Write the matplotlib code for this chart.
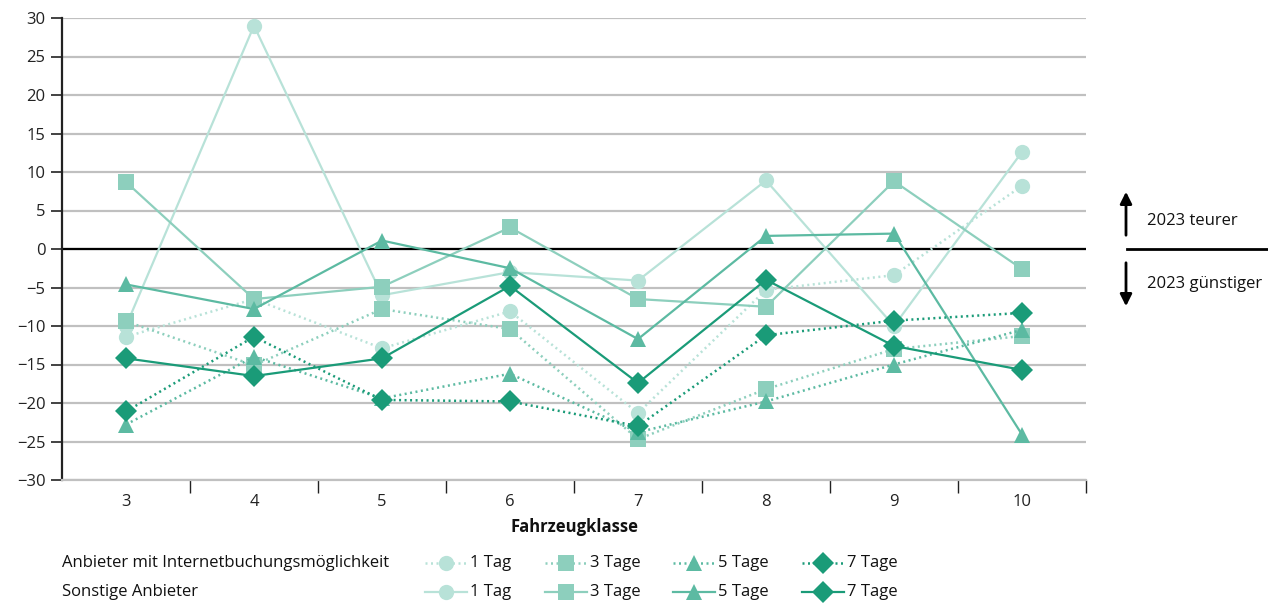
import numpy as np
from matplotlib import pyplot as plt
from matplotlib.lines import Line2D

plt.rcParams['font.family'] = ['Open Sans', 'DejaVu Sans']

classes = [3, 4, 5, 6, 7, 8, 9, 10]

# Anbieter mit Internetbuchungsmoeglichkeit (dotted)
online_1 = [-11.4, -6.5, -12.9, -8.1, -21.3, -5.3, -3.4, 8.2]
online_3 = [-9.4, -15.1, -7.8, -10.4, -24.7, -18.2, -13.0, -11.3]
online_5 = [-22.8, -14.0, -19.4, -16.2, -23.8, -19.8, -15.0, -10.5]
online_7 = [-21.1, -11.4, -19.6, -19.8, -23.0, -11.2, -9.3, -8.3]

# Sonstige Anbieter (solid)
other_1 = [-10.0, 29.0, -6.0, -3.0, -4.1, 8.9, -10.0, 12.6]
other_3 = [8.7, -6.5, -4.9, 2.8, -6.5, -7.5, 8.8, -2.6]
other_5 = [-4.6, -7.8, 1.1, -2.5, -11.7, 1.7, 2.0, -24.1]
other_7 = [-14.2, -16.5, -14.2, -4.8, -17.4, -4.0, -12.6, -15.7]

labels = ['1 Tag', '3 Tage', '5 Tage', '7 Tage']
colors = ['#b8e2d8', '#8dcfbd', '#5cbaa2', '#1a9b78']
markers = ['o', 's', '^', 'D']
msizes = [11, 11, 12, 11.5]
dotted = (0, (0.8, 1.4))

fig = plt.figure(figsize=(12.68, 6.03), dpi=100)
ax = fig.add_axes([62 / 1268, 1 - 480 / 603, 1024 / 1268, 462 / 603])

online = [online_1, online_3, online_5, online_7]
other = [other_1, other_3, other_5, other_7]

for i in range(4):
    ax.plot(classes, online[i], color=colors[i], linestyle=dotted, linewidth=1.8,
            marker=markers[i], markersize=msizes[i], markeredgewidth=0, zorder=3 + i)
    ax.plot(classes, other[i], color=colors[i], linestyle='-', linewidth=1.6,
            marker=markers[i], markersize=msizes[i], markeredgewidth=0, zorder=3 + i)

ax.set_xlim(2.5, 10.5)
ax.set_ylim(-30, 30)
ax.set_yticks(np.arange(-30, 31, 5))
ax.set_yticklabels([str(v).replace('-', '\u2212') for v in range(-30, 31, 5)])
ax.yaxis.grid(True, color='#c0c0c0', linewidth=1.6)
ax.set_axisbelow(True)
ax.axhline(0, color='black', linewidth=1.6, zorder=2)

ax.set_xticks(classes)
ax.set_xticklabels([str(c) for c in classes])
ax.set_xticks(np.arange(3.5, 10.6, 1), minor=True)
ax.tick_params(axis='x', which='major', length=0, pad=10, labelsize=12, labelcolor='#222222')
ax.tick_params(axis='x', which='minor', length=9, width=1, color='#222222', direction='out')
ax.tick_params(axis='y', length=8, width=1.2, color='#222222', labelsize=12, labelcolor='#222222', pad=4)

for s in ['top', 'right']:
    ax.spines[s].set_visible(False)
ax.spines['bottom'].set_color('#c0c0c0')
ax.spines['bottom'].set_linewidth(1.6)
ax.spines['left'].set_color('#222222')
ax.spines['left'].set_linewidth(1.6)

ax.set_xlabel('Fahrzeugklasse', fontsize=12, fontweight='bold', labelpad=6, color='#111111')

# right side annotation
def fx(px):
    return px / 1268

def fy(py):
    return 1 - py / 603

fig.add_artist(Line2D([fx(1127), fx(1268)], [fy(249), fy(249)], color='black', linewidth=2))
ax.annotate('', xy=(fx(1126), fy(189)), xytext=(fx(1126), fy(238)), xycoords='figure fraction',
            arrowprops=dict(arrowstyle='-|>,head_width=0.35,head_length=0.7', color='black', lw=2))
ax.annotate('', xy=(fx(1126), fy(309)), xytext=(fx(1126), fy(260)), xycoords='figure fraction',
            arrowprops=dict(arrowstyle='-|>,head_width=0.35,head_length=0.7', color='black', lw=2))
fig.text(fx(1147), fy(221), '2023 teurer', fontsize=12, va='center', color='#111111')
fig.text(fx(1147), fy(284), '2023 günstiger', fontsize=12, va='center', color='#111111')

# legend
rows = [(563, 'Anbieter mit Internetbuchungsmöglichkeit', dotted, 1.8),
        (592, 'Sonstige Anbieter', '-', 1.6)]
starts = [425, 545, 673, 802]
for py, title, ls, lw in rows:
    fig.text(fx(62), fy(py), title, fontsize=12, va='center', color='#111111')
    for i in range(4):
        x0 = starts[i]
        fig.add_artist(Line2D([fx(x0), fx(x0 + 42)], [fy(py), fy(py)], color=colors[i],
                              linestyle=ls, linewidth=lw))
        fig.add_artist(Line2D([fx(x0 + 21)], [fy(py)], color=colors[i], marker=markers[i],
                              markersize=msizes[i], markeredgewidth=0, linestyle='none'))
        fig.text(fx(x0 + 45), fy(py), labels[i], fontsize=12, va='center', color='#111111')

fig.savefig('out.png', dpi=100)
